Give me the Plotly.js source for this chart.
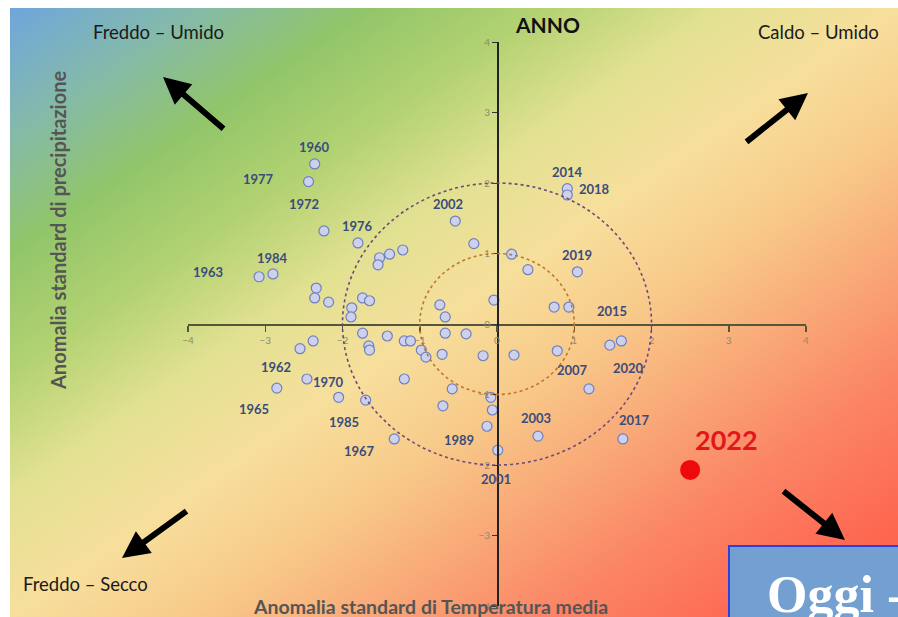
<!DOCTYPE html>
<html>
<head>
<meta charset="utf-8">
<script src="https://cdn.plot.ly/plotly-3.0.1.min.js"></script>
<style>html,body{margin:0;padding:0;background:#fff;}#chart{width:898px;height:617px;}</style>
</head>
<body>
<div id="chart"></div>
<script>
// ---- DATA ----
// Standardized anomalies per year (x: mean temperature, y: precipitation)
const yearLabels = ['1960','1977','1972','1976','1984','1963','2002','2014','2018','2019','2015',
  '1962','1965','1970','1985','1967','1989','2001','2003','2007','2020','2017'];
const labeledTemp = [-2.36,-2.44,-2.24,-1.80,-2.90,-3.08,-0.54,0.91,0.91,1.04,0.93,
  -2.55,-2.85,-2.46,-2.05,-1.33,-0.13,0.01,0.53,0.78,1.61,1.63];
const labeledPrec = [2.27,2.02,1.32,1.15,0.71,0.67,1.46,1.92,1.83,0.74,0.24,
  -0.35,-0.91,-0.78,-1.04,-1.63,-1.45,-1.79,-1.59,-0.38,-0.24,-1.63];
const otherTemp = [-2.34,-2.36,-2.18,-1.74,-1.65,-1.88,-1.89,-1.52,-1.54,-1.39,-1.22,-0.74,-0.30,0.19,0.40,-0.04,-0.67,0.74,
  -2.38,-1.70,-1.74,-1.66,-1.65,-1.42,-1.20,-1.12,-0.98,-0.92,-1.20,-0.67,-0.40,-0.71,-0.18,0.22,1.46,-0.58,-0.70,-0.08,-0.06,1.19];
const otherPrec = [0.51,0.37,0.31,0.37,0.33,0.23,0.10,0.94,0.84,0.99,1.05,0.27,1.14,0.99,0.77,0.34,0.10,0.24,
  -0.24,-1.08,-0.13,-0.31,-0.37,-0.17,-0.24,-0.24,-0.37,-0.47,-0.78,-0.13,-0.14,-0.43,-0.45,-0.44,-0.30,-0.92,-1.16,-1.04,-1.22,-0.92];
const highlightYear = ['2022'];
const highlightTemp = [2.50];
const highlightPrec = [-2.07];
const axisTicks = [-4,-3,-2,-1,0,1,2,3,4];
const circleRadii = [1, 2];

// ---- LAYOUT HELPERS (label offsets in pixels) ----
const labelShiftX = [0,-50,-20,0,0,-51,-7,0,27,0,43, -24,-23,22,5,-35,-28,-2,-2,15,7,12];
const labelShiftY = [17,3,27,17,16,5,17,17,6,17,-4, -18,-21,-3,-25,-12,-14,-29,18,-19,-27,19];

const allTemp = labeledTemp.concat(otherTemp);
const allPrec = labeledPrec.concat(otherPrec);

const traces = [
  {
    type: 'scatter', mode: 'markers', x: allTemp, y: allPrec, cliponaxis: false,
    marker: {size: 10, color: '#cdd1ec', line: {color: '#6f80bf', width: 1.2}},
    hoverinfo: 'x+y', showlegend: false
  },
  {
    type: 'scatter', mode: 'markers', x: highlightTemp, y: highlightPrec, cliponaxis: false,
    marker: {size: 20, color: '#ee0a0a'}, showlegend: false
  }
];

const gradSvg = "<svg xmlns='http://www.w3.org/2000/svg' width='100' height='100' viewBox='0 0 100 100' preserveAspectRatio='none'>" +
  "<defs><linearGradient id='g' x1='0' y1='0' x2='1' y2='1'>" +
  "<stop offset='0' stop-color='#6ea6dc'/>" +
  "<stop offset='0.1' stop-color='#84b9ad'/>" +
  "<stop offset='0.2' stop-color='#91c56a'/>" +
  "<stop offset='0.3' stop-color='#b2d271'/>" +
  "<stop offset='0.4' stop-color='#e2e192'/>" +
  "<stop offset='0.5' stop-color='#f7df9c'/>" +
  "<stop offset='0.6' stop-color='#f8ca8a'/>" +
  "<stop offset='0.7' stop-color='#f9a877'/>" +
  "<stop offset='0.8' stop-color='#fb8565'/>" +
  "<stop offset='0.9' stop-color='#fd6c54'/>" +
  "<stop offset='1' stop-color='#ff5843'/>" +
  "</linearGradient></defs><rect width='100' height='100' fill='url(#g)'/></svg>";
const gradUri = 'data:image/svg+xml;charset=utf-8,' + encodeURIComponent(gradSvg);

const W = 898, H = 617, mL = 188, mR = 92, mT = 42, mB = 11;
const pw = W - mL - mR, ph = H - mT - mB;
const px = v => (v - mL) / pw;
const py = v => (H - mB - v) / ph;

const annotations = [];
yearLabels.forEach((t, i) => {
  annotations.push({x: labeledTemp[i], y: labeledPrec[i], xref: 'x', yref: 'y', text: t, showarrow: false,
    xanchor: 'center', yanchor: 'middle',
    xshift: labelShiftX[i], yshift: labelShiftY[i],
    font: {family: 'Lato, sans-serif', size: 13, color: '#3a4c7c', weight: 'bold'}});
});
annotations.push({x: highlightTemp[0], y: highlightPrec[0], xref: 'x', yref: 'y', text: highlightYear[0], showarrow: false,
  xanchor: 'center', yanchor: 'middle',
  xshift: 36, yshift: 30, font: {family: 'Lato, sans-serif', size: 27, color: '#e3161b', weight: 'bold'}});

const txt = (x, y, text, opts) => Object.assign({xref: 'paper', yref: 'paper', x: px(x), y: py(y), text: text, showarrow: false,
  xanchor: 'center', yanchor: 'middle'}, opts);
annotations.push(txt(547, 24, 'ANNO', {font: {family: 'Lato, sans-serif', size: 21, color: '#111', weight: 'bold'}}));
annotations.push(txt(158, 32, 'Freddo – Umido', {font: {family: 'Lato, sans-serif', size: 18.5, color: '#1a1a1a'}}));
annotations.push(txt(818, 32, 'Caldo – Umido', {font: {family: 'Lato, sans-serif', size: 18.5, color: '#1a1a1a'}}));
annotations.push(txt(85, 584, 'Freddo – Secco', {font: {family: 'Lato, sans-serif', size: 18.5, color: '#1a1a1a'}}));
annotations.push(txt(430, 606, 'Anomalia standard di Temperatura media', {font: {family: 'Lato, sans-serif', size: 19.5, color: '#555', weight: 'bold'}}));
annotations.push(txt(58, 231, 'Anomalia standard di precipitazione', {textangle: -90, font: {family: 'Lato, sans-serif', size: 20, color: '#555', weight: 'bold'}}));

const arrow = (hx, hy, tx, ty) => ({xref: 'paper', yref: 'paper', x: px(hx), y: py(hy), ax: tx - hx, ay: ty - hy,
  text: '', showarrow: true, arrowhead: 2, arrowsize: 0.9, arrowwidth: 6, arrowcolor: '#000', standoff: 0});
annotations.push(arrow(163, 77, 225, 130));
annotations.push(arrow(808, 93, 745, 143));
annotations.push(arrow(122, 558, 188, 510));
annotations.push(arrow(845, 540, 782, 490));

annotations.push(txt(765, 594, 'Oggi -', {xanchor: 'left', yanchor: 'middle', font: {family: 'Liberation Serif, serif', size: 52, color: '#fff', weight: 'bold'}}));

const shapes = circleRadii.map((r, i) => ({
  type: 'circle', xref: 'x', yref: 'y', x0: -r, x1: r, y0: -r, y1: r,
  line: {color: i === 0 ? '#c0772f' : '#6d4a78', width: 1.6, dash: 'dot'}
}));
shapes.push({type: 'rect', xref: 'paper', yref: 'paper', x0: px(729), x1: px(905), y0: py(625), y1: py(546),
  fillcolor: '#74a0d1', line: {color: '#2b40e0', width: 2}, layer: 'above'});

const layout = {
  width: W, height: H,
  margin: {l: mL, r: mR, t: mT, b: mB, pad: 0},
  paper_bgcolor: '#ffffff', plot_bgcolor: 'rgba(0,0,0,0)',
  showlegend: false,
  images: [{source: gradUri, xref: 'paper', yref: 'paper', x: px(10), y: py(8), sizex: px(898) - px(10), sizey: py(8) - py(617),
    xanchor: 'left', yanchor: 'top', sizing: 'stretch', layer: 'below'}],
  xaxis: {range: [-4, 4], anchor: 'free', position: 0.5, tickvals: axisTicks, ticks: 'outside', ticklen: 6, tickwidth: 1.5,
    tickcolor: '#55553a', showline: true, linecolor: '#55553a', linewidth: 1.5, showgrid: false, zeroline: false,
    tickfont: {family: 'Lato, sans-serif', size: 10, color: '#8c8c6e'}, automargin: false, fixedrange: true},
  yaxis: {range: [-4, 4], anchor: 'free', position: 0.5, tickvals: axisTicks, ticks: 'outside', ticklen: 5, tickwidth: 1,
    tickcolor: '#333', showline: true, linecolor: '#222', linewidth: 1.5, showgrid: false, zeroline: false,
    tickfont: {family: 'Lato, sans-serif', size: 10, color: '#8c8c6e'}, automargin: false, fixedrange: true},
  shapes: shapes,
  annotations: annotations
};

Plotly.newPlot('chart', traces, layout, {displayModeBar: false, staticPlot: true});
</script>
</body>
</html>
